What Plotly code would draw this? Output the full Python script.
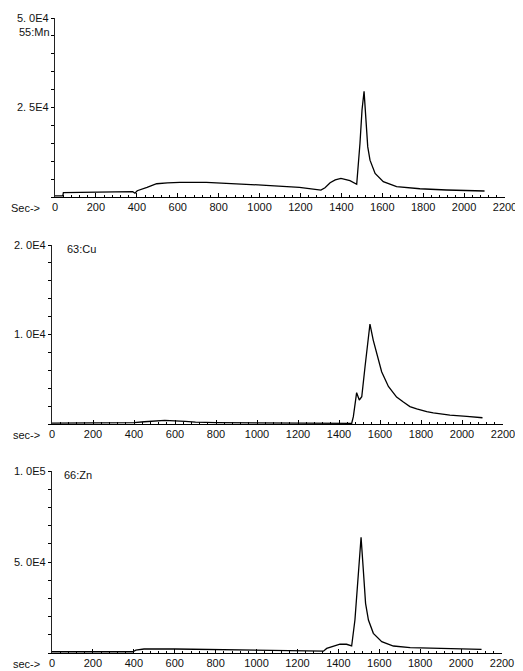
import plotly.graph_objects as go

# page body adds an 8px margin; compensate so the figure lands on the 523x671 grid
OFF = 8
W, H = 523 - OFF, 671 - OFF

# ---------- data ----------
mn_t = [0, 38, 41, 100, 200, 300, 380, 391, 402, 450, 497, 550, 610, 740, 870, 1032, 1195, 1300,
        1320, 1345, 1370, 1398, 1442, 1475, 1491, 1501, 1511, 1521, 1529, 1540, 1565, 1605, 1670,
        1784, 1914, 2100]
mn_v = [300, 300, 1200, 1250, 1300, 1400, 1500, 1050, 1760, 2700, 3700, 3950, 4100, 4100, 3800,
        3260, 2700, 1950, 2600, 4000, 4800, 5200, 4550, 3540, 15000, 24300, 29500, 21500, 14000,
        10300, 6600, 4300, 2900, 2300, 1950, 1680]

cu_t = [0, 100, 300, 400, 450, 550, 650, 700, 800, 1000, 1200, 1400, 1462, 1470, 1486, 1499,
        1511, 1527, 1543, 1551, 1567, 1587, 1608, 1641, 1681, 1714, 1746, 1779, 1828, 1860, 1941,
        2023, 2100]
cu_v = [100, 100, 100, 150, 250, 400, 300, 200, 150, 120, 100, 80, 80, 820, 3500, 2680, 3050,
        6400, 10130, 11170, 9380, 7520, 5840, 4200, 3000, 2450, 1950, 1700, 1370, 1250, 1000, 850,
        700]

zn_t = [0, 200, 395, 410, 450, 600, 700, 850, 1000, 1200, 1327, 1343, 1376, 1408, 1440, 1465,
        1481, 1498, 1511, 1522, 1533, 1547, 1571, 1612, 1669, 1751, 1900, 2100]
zn_v = [700, 700, 700, 1600, 2200, 2200, 2000, 1600, 1300, 1100, 1000, 2500, 3800, 4900, 4800,
        3850, 18100, 45600, 63600, 45600, 27300, 18100, 10800, 6200, 3850, 2900, 2400, 2000]

x_ticks = list(range(0, 2201, 200))
panels = [
    dict(name="55:Mn", t=mn_t, v=mn_v, ymax=5e4, ytv=[25000, 50000], ytt=["2. 5E4", "5. 0E4"],
         ymin_dt=5000, xlab="Sec->"),
    dict(name="63:Cu", t=cu_t, v=cu_v, ymax=2e4, ytv=[10000, 20000], ytt=["1. 0E4", "2. 0E4"],
         ymin_dt=2000, xlab="sec->"),
    dict(name="66:Zn", t=zn_t, v=zn_v, ymax=1e5, ytv=[50000, 100000], ytt=["5. 0E4", "1. 0E5"],
         ymin_dt=10000, xlab="sec->"),
]

# ---------- layout geometry (screen pixels) ----------
geo = [
    dict(x0=55, x1=505, top=18, bot=197),
    dict(x0=52, x1=503, top=245, bot=424),
    dict(x0=52, x1=502, top=471, bot=653),
]


def px(x):
    return (x - OFF) / W


def py(y):
    return 1 - (y - OFF) / H


FONT = "Liberation Sans, Arial, sans-serif"
fig = go.Figure()
layout = dict(width=W, height=H, margin=dict(l=0, r=0, t=0, b=0, autoexpand=False),
              paper_bgcolor="white", plot_bgcolor="white", showlegend=False,
              font=dict(family=FONT, size=11, color="#111"))
annotations = []

for i, (p, g) in enumerate(zip(panels, geo)):
    n = "" if i == 0 else str(i + 1)
    fig.add_trace(go.Scatter(x=p["t"], y=p["v"], mode="lines",
                             line=dict(color="black", width=1.3),
                             xaxis="x" + n, yaxis="y" + n, hoverinfo="skip"))
    layout["xaxis" + n] = dict(
        domain=[px(g["x0"]), px(g["x1"])], anchor="y" + n, range=[0, 2200], automargin=False,
        tickmode="array", tickvals=x_ticks, ticktext=[str(v) for v in x_ticks],
        ticks="inside", ticklen=4, tickcolor="black", showline=True, linecolor="black",
        linewidth=1, showgrid=False, zeroline=False, tickfont=dict(size=11, color="#111"),
        minor=dict(tick0=0, dtick=40, ticks="inside", ticklen=2, tickcolor="black",
                   showgrid=False))
    layout["yaxis" + n] = dict(
        domain=[py(g["bot"]), py(g["top"])], anchor="x" + n, range=[0, p["ymax"]],
        automargin=False,
        tickmode="array", tickvals=p["ytv"], ticktext=p["ytt"], ticks="outside", ticklen=3,
        tickcolor="black", showline=True, linecolor="#222", linewidth=1.2, showgrid=False,
        zeroline=False, tickfont=dict(size=11, color="#111"),
        minor=dict(tick0=0, dtick=p["ymin_dt"], ticks="outside", ticklen=3,
                   tickcolor="black", showgrid=False))
    annotations.append(dict(text=p["xlab"], xref="paper", yref="paper", x=px(42),
                            y=py(g["bot"] + 11), xanchor="right", yanchor="middle",
                            showarrow=False, font=dict(size=11, color="#111")))

annotations.append(dict(text="55:Mn", xref="paper", yref="paper", x=px(52), y=py(32),
                        xanchor="right", yanchor="middle", showarrow=False,
                        font=dict(size=11, color="#111")))
annotations.append(dict(text="63:Cu", xref="paper", yref="paper", x=px(65), y=py(249),
                        xanchor="left", yanchor="middle", showarrow=False,
                        font=dict(size=11, color="#111")))
annotations.append(dict(text="66:Zn", xref="paper", yref="paper", x=px(62), y=py(475),
                        xanchor="left", yanchor="middle", showarrow=False,
                        font=dict(size=11, color="#111")))
layout["annotations"] = annotations
fig.update_layout(**layout)
fig.write_html("out.html")
